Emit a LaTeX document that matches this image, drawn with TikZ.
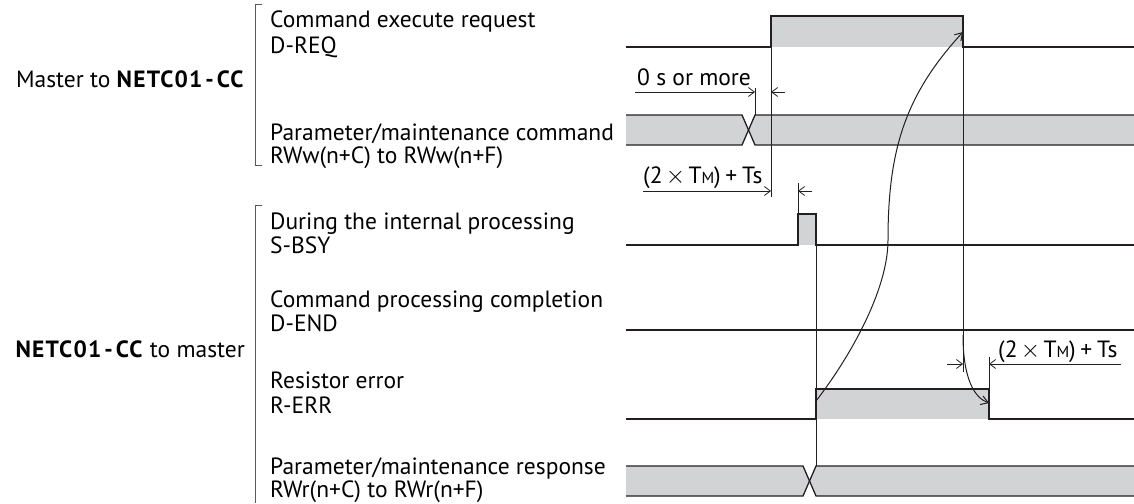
\documentclass[tikz,border=0pt]{standalone}
\usepackage{fontspec}
\setmainfont{PT Sans}
\usetikzlibrary{arrows.meta}
\definecolor{sig}{HTML}{231F20}
\definecolor{fillg}{HTML}{D1D3D4}
\definecolor{brkc}{HTML}{58595B}
\begin{document}
\begin{tikzpicture}[x=1pt,y=-1pt,
  sigline/.style={draw=sig,line width=1.3pt,line join=miter},
  guideline/.style={draw=sig,line width=0.8pt},
  lbl/.style={anchor=base west,inner sep=0pt,font=\fontsize{23.5}{26}\selectfont},
  grp/.style={anchor=base east,inner sep=0pt,font=\fontsize{23.5}{26}\selectfont},
  dimline/.style={draw=sig,line width=0.8pt,-{Straight Barb[length=6pt,width=9pt]}},
  curvearrow/.style={draw=sig,line width=1pt,-{Straight Barb[length=7pt,width=9pt]}},
  brk/.style={draw=brkc,line width=1pt}
]
\useasboundingbox (0,0) rectangle (1134,503);
\newcommand{\tm}{T{\fontsize{16}{16}\selectfont M}}
\newcommand{\netc}{\textbf{\addfontfeature{LetterSpace=5}NETC01\kern3pt-\kern3pt CC}}
\newcommand{\tmts}{(2\hspace{0.14em}$\times$\hspace{0.14em}\tm)\hspace{0.2em}+\hspace{0.2em}Ts}

% group labels and brackets
\node[grp] (g1) at (245,87) {Master to \netc};
\node[grp] (g2) at (245,357) {\netc\ to master};
\draw[brk] (262,5) -- (255,5) -- (255,165) -- (262,165);
\draw[brk] (262,205) -- (255,205) -- (255,503);

% signal labels
\node[lbl] (l1a) at (270,28) {Command execute request};
\node[lbl] (l1b) at (270,53) {D-REQ};
\node[lbl] (l2a) at (270,140) {Parameter/maintenance command};
\node[lbl] (l2b) at (270,163) {RWw(n+C) to RWw(n+F)};
\node[lbl] (l3a) at (270,229) {During the internal processing};
\node[lbl] (l3b) at (270,253) {S-BSY};
\node[lbl] (l4a) at (270,307) {Command processing completion};
\node[lbl] (l4b) at (270,331) {D-END};
\node[lbl] (l5a) at (270,388) {Resistor error};
\node[lbl] (l5b) at (270,413) {R-ERR};
\node[lbl] (l6a) at (270,474) {Parameter/maintenance response};
\node[lbl] (l6b) at (270,497) {RWr(n+C) to RWr(n+F)};

% fills
\fill[fillg] (771,16) rectangle (963,47);
\fill[fillg] (798,214) rectangle (816,245);
\fill[fillg] (816,389) rectangle (989,419);
\fill[fillg] (626,115) -- (742,115) -- (748.5,130) -- (742,145) -- (626,145) -- cycle;
\fill[fillg] (748.5,130) -- (755,115) -- (1134,115) -- (1134,145) -- (755,145) -- cycle;
\fill[fillg] (626,466) -- (803,466) -- (809.5,481) -- (803,496) -- (626,496) -- cycle;
\fill[fillg] (809.5,481) -- (816,466) -- (1134,466) -- (1134,496) -- (816,496) -- cycle;

% guide lines
\draw[guideline] (771,16) -- (771,197);
\draw[guideline] (963,16) -- (963,372);
\draw[guideline] (755,88) -- (755,115);
\draw[guideline] (798,183) -- (798,214);
\draw[guideline] (816,245) -- (816,466);
\draw[guideline] (989,357) -- (989,389);

% signals
\draw[sigline] (626,47) -- (771,47) -- (771,16) -- (963,16) -- (963,47) -- (1134,47);
\draw[sigline] (626,115) -- (742,115) -- (755,145) -- (1134,145);
\draw[sigline] (626,145) -- (742,145) -- (755,115) -- (1134,115);
\draw[sigline] (626,245) -- (798,245) -- (798,214) -- (816,214) -- (816,245) -- (1134,245);
\draw[sigline] (626,330) -- (1134,330);
\draw[sigline] (626,419) -- (816,419) -- (816,389) -- (989,389) -- (989,419) -- (1134,419);
\draw[sigline] (626,466) -- (803,466) -- (816,496) -- (1134,496);
\draw[sigline] (626,496) -- (803,496) -- (816,466) -- (1134,466);

% dimensions
\coordinate (d1a) at (635,92);  \coordinate (d1b) at (755,92);
\coordinate (d1c) at (785,92);  \coordinate (d1d) at (771,92);
\coordinate (d2a) at (643,191); \coordinate (d2b) at (771,191);
\coordinate (d2c) at (812,191); \coordinate (d2d) at (798,191);
\coordinate (d3a) at (947,364); \coordinate (d3b) at (963,364);
\coordinate (d3c) at (1121,364); \coordinate (d3d) at (989,364);
\draw[dimline] (d1a) -- (d1b);
\draw[dimline] (d1c) -- (d1d);
\draw[dimline] (d2a) -- (d2b);
\draw[dimline] (d2c) -- (d2d);
\draw[dimline] (d3a) -- (d3b);
\draw[dimline] (d3c) -- (d3d);
\node[lbl] (t1) at (637,85) {0 s or more};
\node[lbl] (t2) at (643,183) {\tmts};
\node[lbl] (t3) at (998,357) {\tmts};

% causal curves
\coordinate (rerrup) at (816,401);
\coordinate (dreqdn) at (963,32);
\coordinate (dreqfall) at (963,335);
\coordinate (rerrdn) at (989,403);
\draw[curvearrow] (rerrup) .. controls (850,357) and (888,290) .. (888,240)
  .. controls (888,150) and (905,95) .. (dreqdn);
\draw[curvearrow] (dreqfall) .. controls (963,380) and (975,398) .. (rerrdn);
\end{tikzpicture}
\end{document}
